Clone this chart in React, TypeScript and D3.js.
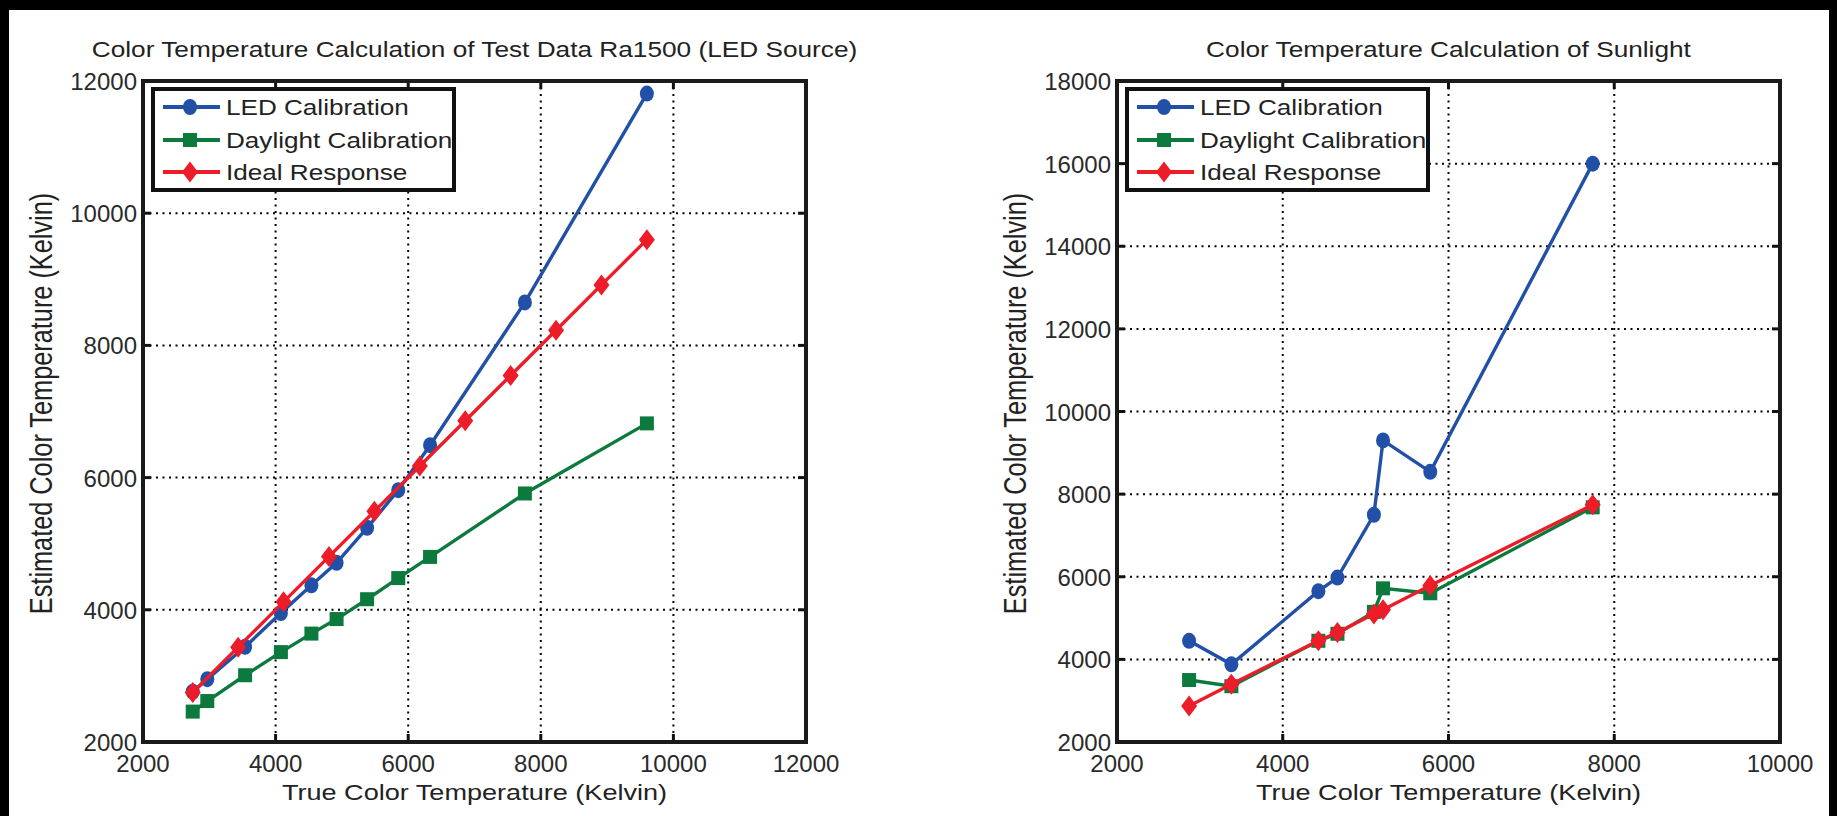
import React from 'react';
import * as d3 from 'd3';

// LED source test data (Ra1500)
const ledTrueX = [2750, 2970, 3540, 4080, 4540, 4920, 5380, 5850, 6330, 7760, 9600];
const ledLedCal = [2760, 2950, 3440, 3950, 4370, 4710, 5240, 5810, 6490, 8650, 11810];
const ledDayCal = [2460, 2620, 3010, 3360, 3640, 3860, 4160, 4480, 4800, 5760, 6820];
const ledIdealX = [2750, 3435, 4120, 4805, 5490, 6175, 6860, 7545, 8230, 8915, 9600];
const ledIdeal = [2750, 3435, 4120, 4805, 5490, 6175, 6860, 7545, 8230, 8915, 9600];

// sunlight data
const sunTrueX = [2870, 3380, 4430, 4660, 5100, 5210, 5780, 7740];
const sunLedCal = [4450, 3880, 5650, 5980, 7500, 9300, 8540, 16000];
const sunDayCal = [3500, 3350, 4450, 4620, 5150, 5720, 5600, 7680];
const sunIdeal = [2870, 3400, 4450, 4650, 5100, 5200, 5790, 7740];

const leftXTicks = [2000, 4000, 6000, 8000, 10000, 12000];
const leftYTicks = [2000, 4000, 6000, 8000, 10000, 12000];
const rightXTicks = [2000, 4000, 6000, 8000, 10000];
const rightYTicks = [2000, 4000, 6000, 8000, 10000, 12000, 14000, 16000, 18000];

const legendNames = ['LED Calibration', 'Daylight Calibration', 'Ideal Response'];

const BLUE = '#2150a6';
const GREEN = '#0c7a3d';
const RED = '#ec1c28';
const FONT = 'Liberation Sans, Arial, Helvetica, sans-serif';
const SX = 1.22; // the original figure is stretched sideways

type Series = { xs: number[]; ys: number[]; color: string; marker: string };

const Marker = ({ kind, x, y, color }: { kind: string; x: number; y: number; color: string }) => {
  if (kind === 'circle') return <ellipse cx={x} cy={y} rx={7} ry={8} fill={color} />;
  if (kind === 'square') return <rect x={x - 7} y={y - 7} width={14} height={14} fill={color} />;
  return <path d={`M${x},${y - 10.5}L${x + 8},${y}L${x},${y + 10.5}L${x - 8},${y}Z`} fill={color} />;
};

const Panel = ({ title, left, right, top, bottom, xDomain, yDomain, xTicks, yTicks, series }: any) => {
  const x = d3.scaleLinear().domain(xDomain).range([left, right]);
  const y = d3.scaleLinear().domain(yDomain).range([bottom, top]);
  const cx = (left + right) / 2;
  const cy = (top + bottom) / 2;
  const lg = { x: left + 8, y: top + 6, w: 305, h: 105 };
  const rows = [20, 53, 85];

  return (
    <g>
      <text transform={`translate(${cx},57) scale(${SX},1)`} textAnchor="middle"
        fontFamily={FONT} fontSize={21.5} fill="#222">{title}</text>

      {/* dotted grid */}
      {xTicks.slice(1, -1).map((t: number) => (
        <line key={'gx' + t} x1={x(t)} x2={x(t)} y1={top} y2={bottom}
          stroke="#000" strokeWidth={2} strokeDasharray="2 4.5" />
      ))}
      {yTicks.slice(1, -1).map((t: number) => (
        <line key={'gy' + t} x1={left} x2={right} y1={y(t)} y2={y(t)}
          stroke="#000" strokeWidth={2} strokeDasharray="2 4.5" />
      ))}

      {/* ticks inside on all sides */}
      {xTicks.map((t: number) => (
        <g key={'tx' + t} stroke="#111" strokeWidth={3}>
          <line x1={x(t)} x2={x(t)} y1={bottom} y2={bottom - 8} />
          <line x1={x(t)} x2={x(t)} y1={top} y2={top + 8} />
        </g>
      ))}
      {yTicks.map((t: number) => (
        <g key={'ty' + t} stroke="#111" strokeWidth={3}>
          <line x1={left} x2={left + 8} y1={y(t)} y2={y(t)} />
          <line x1={right} x2={right - 8} y1={y(t)} y2={y(t)} />
        </g>
      ))}

      {/* data */}
      {series.map((s: Series, i: number) => {
        const pts = s.xs.map((v, j) => [x(v), y(s.ys[j])] as [number, number]);
        const line = d3.line();
        return (
          <g key={'s' + i}>
            <path d={line(pts) || ''} fill="none" stroke={s.color} strokeWidth={3.4} />
            {pts.map((p, j) => <Marker key={j} kind={s.marker} x={p[0]} y={p[1]} color={s.color} />)}
          </g>
        );
      })}

      <rect x={left} y={top} width={right - left} height={bottom - top} fill="none" stroke="#1a1a1a" strokeWidth={4} />

      {/* tick labels */}
      {xTicks.map((t: number) => (
        <text key={'lx' + t} x={x(t)} y={772} textAnchor="middle" fontFamily={FONT} fontSize={24} fill="#2a2a2a">{t}</text>
      ))}
      {yTicks.map((t: number) => (
        <text key={'ly' + t} x={left - 6} y={y(t) + 9} textAnchor="end" fontFamily={FONT} fontSize={24} fill="#2a2a2a">{t}</text>
      ))}

      <text transform={`translate(${cx},800) scale(${SX},1)`} textAnchor="middle"
        fontFamily={FONT} fontSize={22.2} fill="#222">True Color Temperature (Kelvin)</text>
      <text transform={`translate(${left - 91},${cy - 8}) scale(1.22,1) rotate(-90)`} textAnchor="middle"
        fontFamily={FONT} fontSize={25.3} fill="#222">Estimated Color Temperature (Kelvin)</text>

      {/* legend */}
      <rect x={lg.x + 2} y={lg.y + 2} width={lg.w - 4} height={lg.h - 4} fill="#fff" stroke="#111" strokeWidth={4} />
      {series.map((s: Series, i: number) => (
        <g key={'lg' + i}>
          <line x1={lg.x + 12} x2={lg.x + 69} y1={lg.y + rows[i]} y2={lg.y + rows[i]} stroke={s.color} strokeWidth={3.8} />
          <Marker kind={s.marker} x={lg.x + 39} y={lg.y + rows[i]} color={s.color} />
          <text transform={`translate(${lg.x + 75},${lg.y + rows[i] + 7.8}) scale(${SX},1)`}
            fontFamily={FONT} fontSize={21.4} fill="#222">{legendNames[i]}</text>
        </g>
      ))}
    </g>
  );
};

export default function App() {
  return (
    <svg width={1837} height={816} style={{ position: 'absolute', left: 0, top: 0, background: '#fff' }}>
      <rect x={0} y={0} width={1837} height={10} fill="#000" />
      <rect x={0} y={0} width={9} height={816} fill="#000" />
      <rect x={1829} y={0} width={8} height={816} fill="#000" />
      <Panel title="Color Temperature Calculation of Test Data Ra1500 (LED Source)"
        left={143} right={806} top={81} bottom={742}
        xDomain={[2000, 12000]} yDomain={[2000, 12000]}
        xTicks={leftXTicks} yTicks={leftYTicks}
        series={[
          { xs: ledTrueX, ys: ledLedCal, color: BLUE, marker: 'circle' },
          { xs: ledTrueX, ys: ledDayCal, color: GREEN, marker: 'square' },
          { xs: ledIdealX, ys: ledIdeal, color: RED, marker: 'diamond' },
        ]} />
      <Panel title="Color Temperature Calculation of Sunlight"
        left={1117} right={1780} top={81} bottom={742}
        xDomain={[2000, 10000]} yDomain={[2000, 18000]}
        xTicks={rightXTicks} yTicks={rightYTicks}
        series={[
          { xs: sunTrueX, ys: sunLedCal, color: BLUE, marker: 'circle' },
          { xs: sunTrueX, ys: sunDayCal, color: GREEN, marker: 'square' },
          { xs: sunTrueX, ys: sunIdeal, color: RED, marker: 'diamond' },
        ]} />
    </svg>
  );
}
